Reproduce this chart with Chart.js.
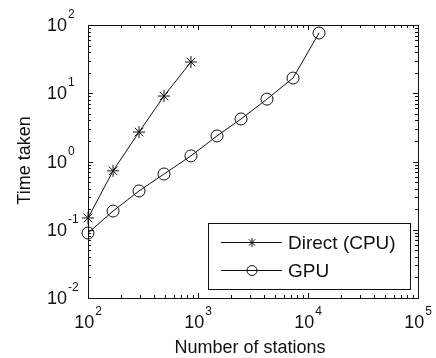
<!DOCTYPE html>
<html>
<head>
<meta charset="utf-8">
<script src="https://cdn.jsdelivr.net/npm/chart.js@4/dist/chart.umd.min.js"></script>
<style>
  html, body { margin: 0; padding: 0; background: #fff; }
  #wrap { width: 436px; height: 358px; }
</style>
</head>
<body>
<div id="wrap"><canvas id="c" width="436" height="358"></canvas></div>
<script>
// Problem sizes (number of stations) and run times
const stationsCpu = [100, 169, 291, 491, 863];
const timeCpu     = [0.149, 0.73, 2.7, 9.1, 28.7];
const stationsGpu = [100, 169, 291, 491, 863, 1489, 2460, 4236, 7310, 12600];
const timeGpu     = [0.0896, 0.188, 0.37, 0.656, 1.21, 2.37, 4.2, 8.2, 16.7, 76.4];

// Decade exponents used for the tick labels
const xExponents = [2, 3, 4, 5];
const yExponents = [-2, -1, 0, 1, 2];

const seriesNames = ['Direct (CPU)', 'GPU'];
const xTitle = 'Number of stations';
const yTitle = 'Time taken';

const FONT = '"Liberation Sans", Arial, Helvetica, sans-serif';
const INK = '#111';

function toPoints(xs, ys) {
  return xs.map((x, i) => ({ x: x, y: ys[i] }));
}

function drawMarker(ctx, style, x, y, r) {
  ctx.beginPath();
  if (style === 'star') {
    ctx.moveTo(x - r, y); ctx.lineTo(x + r, y);
    ctx.moveTo(x, y - r); ctx.lineTo(x, y + r);
    const d = r * Math.SQRT1_2;
    ctx.moveTo(x - d, y - d); ctx.lineTo(x + d, y + d);
    ctx.moveTo(x - d, y + d); ctx.lineTo(x + d, y - d);
  } else {
    ctx.arc(x, y, r, 0, Math.PI * 2);
  }
  ctx.stroke();
}

// Frame, inward log ticks on all four sides, power-of-ten labels, titles and legend
const matlabAxes = {
  id: 'matlabAxes',
  beforeDraw(chart) {
    const ctx = chart.ctx;
    ctx.save();
    ctx.fillStyle = '#fff';
    ctx.fillRect(0, 0, chart.width, chart.height);
    ctx.restore();
  },
  afterDatasetsDraw(chart) {
    const ctx = chart.ctx;
    const a = chart.chartArea;
    const xs = chart.scales.x, ys = chart.scales.y;
    ctx.save();
    ctx.strokeStyle = INK;
    ctx.lineWidth = 1;

    // frame
    ctx.strokeRect(Math.round(a.left) + 0.5, Math.round(a.top) + 0.5,
                   Math.round(a.right - a.left), Math.round(a.bottom - a.top));

    const MAJ = 5, MIN = 3;
    ctx.beginPath();
    // x ticks
    for (let e = xExponents[0]; e <= xExponents[xExponents.length - 1]; e++) {
      for (let m = 1; m <= 9; m++) {
        const v = m * Math.pow(10, e);
        if (v > xs.max * 1.0001) break;
        const px = Math.round(xs.getPixelForValue(v)) + 0.5;
        const len = m === 1 ? MAJ : MIN;
        ctx.moveTo(px, a.bottom); ctx.lineTo(px, a.bottom - len);
        ctx.moveTo(px, a.top); ctx.lineTo(px, a.top + len);
      }
    }
    // y ticks
    for (let e = yExponents[0]; e <= yExponents[yExponents.length - 1]; e++) {
      for (let m = 1; m <= 9; m++) {
        const v = m * Math.pow(10, e);
        if (v > ys.max * 1.0001) break;
        const py = Math.round(ys.getPixelForValue(v)) + 0.5;
        const len = m === 1 ? MAJ : MIN;
        ctx.moveTo(a.left, py); ctx.lineTo(a.left + len, py);
        ctx.moveTo(a.right, py); ctx.lineTo(a.right - len, py);
      }
    }
    ctx.stroke();

    // tick labels: "10" with a raised exponent
    ctx.fillStyle = INK;
    ctx.textBaseline = 'alphabetic';
    const baseFont = '18px ' + FONT;
    const expFont = '12px ' + FONT;
    xExponents.forEach(e => {
      const px = xs.getPixelForValue(Math.pow(10, e));
      ctx.font = baseFont;
      const wb = ctx.measureText('10').width;
      ctx.font = expFont;
      const we = ctx.measureText(String(e)).width;
      const start = px - (wb + 1 + we) / 2;
      ctx.font = baseFont; ctx.textAlign = 'left';
      ctx.fillText('10', start, a.bottom + 30);
      ctx.font = expFont;
      ctx.fillText(String(e), start + wb + 1, a.bottom + 17);
    });
    yExponents.forEach(e => {
      const py = ys.getPixelForValue(Math.pow(10, e));
      const right = a.left - 21;
      ctx.font = baseFont; ctx.textAlign = 'right';
      ctx.fillText('10', right, py + 6);
      ctx.font = expFont; ctx.textAlign = 'left';
      ctx.fillText(String(e), right + 1, py - 7);
    });

    // axis titles
    ctx.font = '18px ' + FONT;
    ctx.textAlign = 'center';
    ctx.fillText(xTitle, (a.left + a.right) / 2 - 3, chart.height - 5);
    ctx.save();
    ctx.translate(25, (a.top + a.bottom) / 2 - 1);
    ctx.rotate(-Math.PI / 2);
    ctx.textBaseline = 'middle';
    ctx.fillText(yTitle, 0, 0);
    ctx.restore();

    // legend box
    const lx = a.right - 210, ly = a.bottom - 75, lw = 202, lh = 66;
    ctx.fillStyle = '#fff';
    ctx.fillRect(lx, ly, lw, lh);
    ctx.strokeRect(Math.round(lx) + 0.5, Math.round(ly) + 0.5, lw, lh);
    ctx.font = '19px ' + FONT;
    ctx.textAlign = 'left';
    ctx.textBaseline = 'middle';
    chart.data.datasets.forEach((ds, i) => {
      const ry = Math.round(ly + 19 + i * 28) + 0.5;
      ctx.beginPath();
      ctx.moveTo(lx + 13, ry); ctx.lineTo(lx + 74, ry);
      ctx.stroke();
      drawMarker(ctx, ds.pointStyle, lx + 44, ry, ds.pointStyle === 'star' ? 4.5 : 5);
      ctx.fillStyle = INK;
      ctx.fillText(ds.label, lx + 80, ry + 1);
    });
    ctx.restore();
  }
};

new Chart(document.getElementById('c'), {
  type: 'scatter',
  data: {
    datasets: [
      {
        label: seriesNames[0],
        data: toPoints(stationsCpu, timeCpu),
        showLine: true,
        borderColor: INK,
        borderWidth: 1,
        pointStyle: 'star',
        pointRadius: 6,
        pointBorderColor: INK,
        pointBorderWidth: 1,
        pointBackgroundColor: 'rgba(0,0,0,0)',
        clip: false
      },
      {
        label: seriesNames[1],
        data: toPoints(stationsGpu, timeGpu),
        showLine: true,
        borderColor: INK,
        borderWidth: 1,
        pointStyle: 'circle',
        pointRadius: 6,
        pointBorderColor: INK,
        pointBorderWidth: 1,
        pointBackgroundColor: 'rgba(0,0,0,0)',
        clip: false
      }
    ]
  },
  options: {
    responsive: false,
    animation: false,
    devicePixelRatio: 1,
    layout: { padding: { left: 88, right: 18, top: 25, bottom: 60 } },
    plugins: { legend: { display: false }, tooltip: { enabled: false } },
    scales: {
      x: { type: 'logarithmic', min: 100, max: 100000, display: false },
      y: { type: 'logarithmic', min: 0.01, max: 100, display: false }
    }
  },
  plugins: [matlabAxes]
});
</script>
</body>
</html>
